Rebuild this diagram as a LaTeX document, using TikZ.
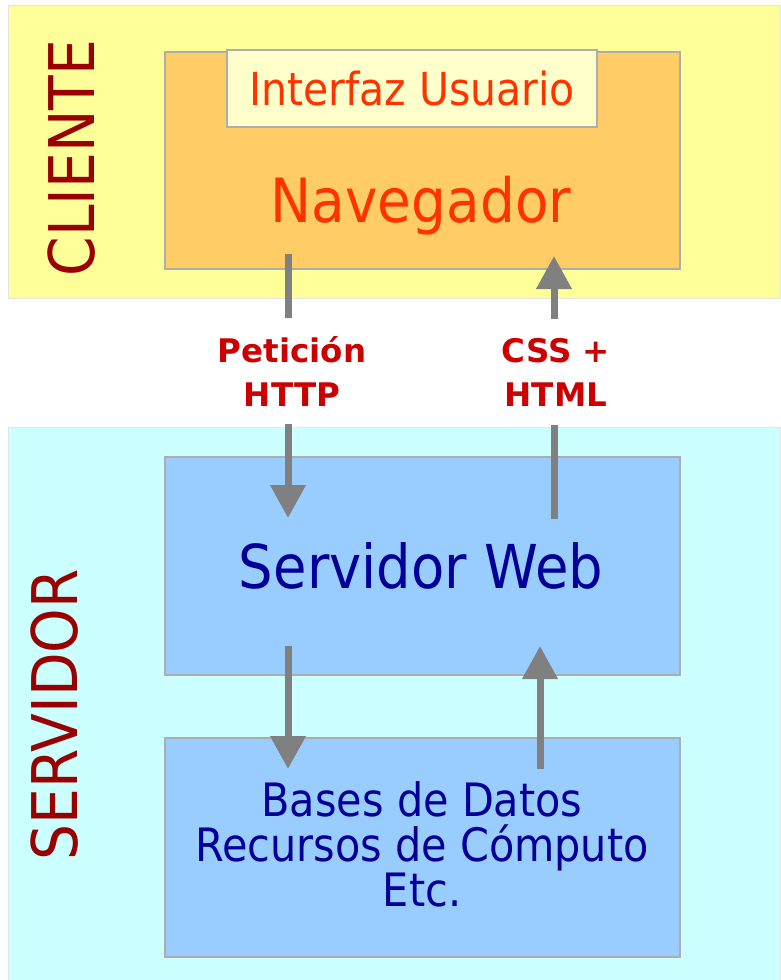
\documentclass[tikz,border=0pt]{standalone}
\usepackage{fontspec}
\setmainfont{DejaVu Sans}
\newfontfamily\cond{DejaVu Sans}[FakeStretch=0.9]
\usetikzlibrary{arrows.meta}
\definecolor{cliyellow}{HTML}{FFFF99}
\definecolor{navorange}{HTML}{FFCC66}
\definecolor{uiyellow}{HTML}{FFFFCC}
\definecolor{srvcyan}{HTML}{CCFFFF}
\definecolor{webblue}{HTML}{99CCFF}
\definecolor{navred}{HTML}{FF3300}
\definecolor{darkblue}{HTML}{000099}
\definecolor{labred}{HTML}{CC0000}
\definecolor{sidered}{HTML}{990000}
\begin{document}
\begin{tikzpicture}[x=1pt,y=-1pt,
  band/.style={anchor=north west, inner sep=0pt, outer sep=0pt, draw=black!10, line width=1pt},
  box/.style={anchor=north west, draw=black!32, line width=2pt, inner sep=0pt, outer sep=0pt},
  flow/.style={draw=black!50, line width=7pt, -{Triangle[width=34pt,length=33pt]}},
  lab/.style={font=\fontsize{32.5}{44}\selectfont\bfseries, text=labred, align=center, inner sep=0pt, fill=white, minimum height=106pt},
  side/.style={rotate=90, font=\cond\fontsize{63}{70}\selectfont, text=sidered, inner sep=0pt},
  boxtext/.style={inner sep=0pt, anchor=base}]
\useasboundingbox (0,0) rectangle (780,980);
\fill[white] (0,0) rectangle (780,980);
% bands
\node[band, fill=cliyellow, minimum width=772pt, minimum height=293pt] (cband) at (8,5) {};
\node[band, fill=srvcyan, minimum width=772pt, minimum height=553pt] (sband) at (8,427) {};
% boxes
\node[box, fill=navorange, minimum width=515pt, minimum height=217pt] (nav) at (165,52) {};
\node[box, fill=uiyellow, minimum width=370pt, minimum height=77pt] (ui) at (227,50) {};
\node[box, fill=webblue, minimum width=515pt, minimum height=218pt] (web) at (165,457) {};
\node[box, fill=webblue, minimum width=515pt, minimum height=219pt] (db) at (165,738) {};
% texts
\node[boxtext, text=navred, font=\cond\fontsize{45.5}{54}\selectfont] (uitext) at (412,105) {Interfaz Usuario};
\node[boxtext, text=navred, font=\cond\fontsize{61}{70}\selectfont] (navtext) at (421,222) {Navegador};
\node[boxtext, text=darkblue, font=\cond\fontsize{60.5}{70}\selectfont] (webtext) at (421,588) {Servidor Web};
\node[inner sep=0pt, align=center, text=darkblue, font=\cond\fontsize{46}{45}\selectfont] (dbtext) at (422,844) {Bases de Datos\\Recursos de Cómputo\\Etc.};
% side labels
\node[side] (cli) at (71.5,158) {CLIENTE};
\node[side] (srv) at (55,715) {SERVIDOR};
% arrows
\coordinate (a1s) at (288,254);
\coordinate (a1e) at (288,518);
\coordinate (a2s) at (554,519);
\coordinate (a2e) at (554,256);
\coordinate (a3s) at (288,646);
\coordinate (a3e) at (288,769);
\coordinate (a4s) at (540,769);
\coordinate (a4e) at (540,646);
\draw[flow] (a1s) -- (a1e);
\draw[flow] (a2s) -- (a2e);
\draw[flow] (a3s) -- (a3e);
\draw[flow] (a4s) -- (a4e);
% arrow labels
\node[lab] (pet) at (292,371) {Petición\\HTTP};
\node[lab] (css) at (556,372) {CSS +\\HTML};
\end{tikzpicture}
\end{document}
